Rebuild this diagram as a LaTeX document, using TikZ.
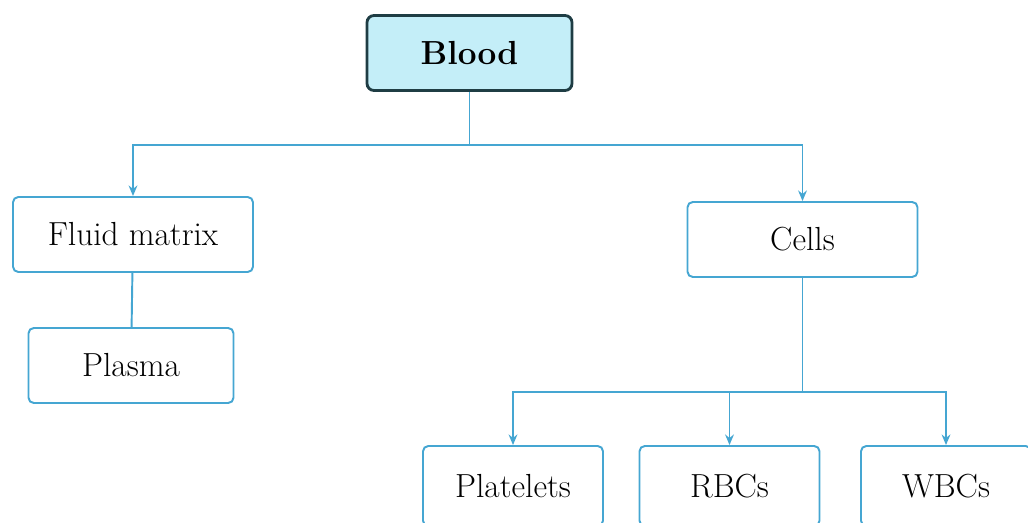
\documentclass[tikz,border=0pt]{standalone}
\usepackage{tikz}
\usetikzlibrary{arrows.meta, positioning, calc}
\definecolor{linkblue}{HTML}{45A6D2}
\definecolor{rootfill}{HTML}{C4EEF8}
\definecolor{rootdraw}{HTML}{1F3D44}

\begin{document}
\begin{tikzpicture}[
    box/.style={
        draw=linkblue,
        line width=1.1pt,
        rounded corners=3pt,
        fill=white,
        font=\fontsize{19}{22}\selectfont,
        text=black
    },
    rootbox/.style={
        box,
        draw=rootdraw,
        line width=1.6pt,
        rounded corners=4pt,
        fill=rootfill,
        font=\fontsize{19}{22}\selectfont\bfseries
    },
    link/.style={
        draw=linkblue,
        line width=1.1pt
    },
    arrow/.style={
        link,
        -{Stealth[length=6pt,width=5pt]}
    }
]
\useasboundingbox (0,0) rectangle (20.56,-10.46);

% Root
\node[rootbox, minimum width=4.1cm, minimum height=1.5cm] (blood) at (9.39,-1.06) {Blood};

% Second level
\node[box, minimum width=4.8cm, minimum height=1.5cm] (fluid) at (2.66,-4.69) {Fluid matrix};
\node[box, minimum width=4.6cm, minimum height=1.5cm] (cells) at (16.05,-4.79) {Cells};

% Plasma
\node[box, minimum width=4.1cm, minimum height=1.5cm] (plasma) at (2.62,-7.31) {Plasma};

% Kinds of cells
\node[box, minimum width=3.6cm, minimum height=1.6cm] (platelets) at (10.26,-9.72) {Platelets};
\node[box, minimum width=3.6cm, minimum height=1.6cm] (rbcs) at (14.59,-9.72) {RBCs};
\node[box, minimum width=3.4cm, minimum height=1.6cm] (wbcs) at (18.92,-9.72) {WBCs};

% Connectors
\draw[link] (blood.south) -- (blood.south |- 0,-2.9) coordinate (bsplit);
\draw[arrow] (bsplit) -| (fluid.north);
\draw[arrow] (bsplit) -| (cells.north);

\draw[link] (fluid) -- (plasma);

\draw[link] (cells.south) -- (cells.south |- 0,-7.84) coordinate (csplit);
\draw[arrow] (csplit) -| (platelets.north);
\draw[arrow] (csplit) -| (rbcs.north);
\draw[arrow] (csplit) -| (wbcs.north);

\end{tikzpicture}
\end{document}
